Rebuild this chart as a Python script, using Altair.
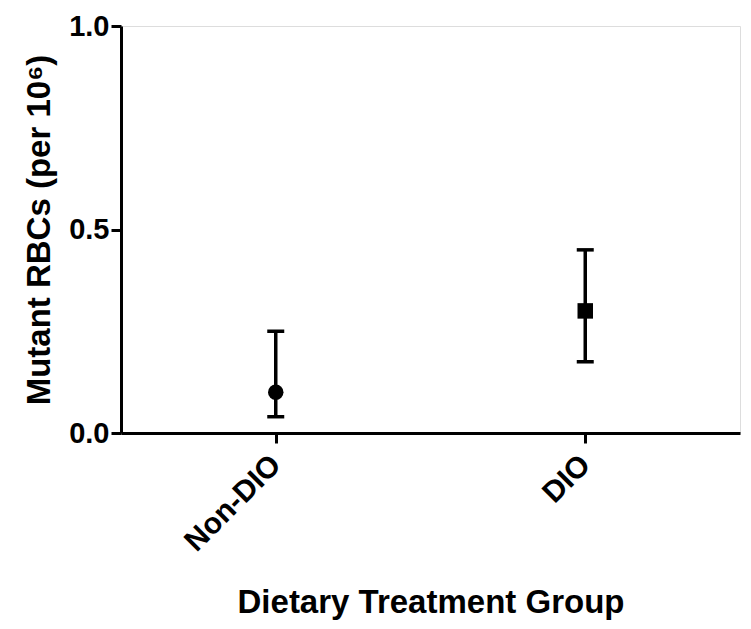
import altair as alt
import pandas as pd

groups = ["Non-DIO", "DIO"]
means = [0.10, 0.30]
lower = [0.04, 0.175]
upper = [0.25, 0.45]
shapes = ["circle", "square"]

df = pd.DataFrame({"group": groups, "mean": means, "lo": lower, "hi": upper, "shape": shapes})

FONT = "Liberation Sans"

xscale = alt.Scale(type="point", padding=0.5, domain=groups)
yscale = alt.Scale(domain=[0, 1], nice=False, zero=True)

xenc = alt.X("group:N", sort=groups, scale=xscale,
             axis=alt.Axis(title="Dietary Treatment Group", labelAngle=-45, labelAlign="right",
                           labelBaseline="middle", labelPadding=17, titlePadding=30,
                           titleFontSize=33, labelFontSize=30))
yaxis = alt.Axis(title="Mutant RBCs (per 10⁶)", values=[0, 0.5, 1.0], format=".1f",
                 labelPadding=2, titlePadding=12, titleFontSize=33, labelFontSize=29)

base = alt.Chart(df)

rules = base.mark_rule(color="black", strokeWidth=3.5).encode(
    x=xenc, y=alt.Y("lo:Q", scale=yscale, axis=yaxis), y2="hi:Q")
cap_lo = base.mark_tick(color="black", thickness=3.5, size=17, orient="horizontal", opacity=1).encode(
    x=xenc, y=alt.Y("lo:Q", scale=yscale, axis=yaxis))
cap_hi = base.mark_tick(color="black", thickness=3.5, size=17, orient="horizontal", opacity=1).encode(
    x=xenc, y=alt.Y("hi:Q", scale=yscale, axis=yaxis))
pts = base.mark_point(filled=True, color="black", opacity=1).encode(
    x=xenc, y=alt.Y("mean:Q", scale=yscale, axis=yaxis),
    shape=alt.Shape("shape:N", scale=None),
    size=alt.value(240))

chart = alt.layer(rules, cap_lo, cap_hi, pts).properties(
    width=619, height=407,
    autosize=alt.AutoSizeParams(type="none"),
    padding={"left": 113, "top": 18, "right": 3, "bottom": 188},
).configure_view(stroke=None).configure(background="white").configure_axis(
    labelFont=FONT, titleFont=FONT, labelFontWeight="bold",
    titleFontWeight="bold", domainWidth=3, tickWidth=3, tickSize=10,
    domainColor="black", tickColor="black", labelColor="black", titleColor="black",
    grid=False)

chart.save("out.html", embed_options={"renderer": "svg", "actions": False})
